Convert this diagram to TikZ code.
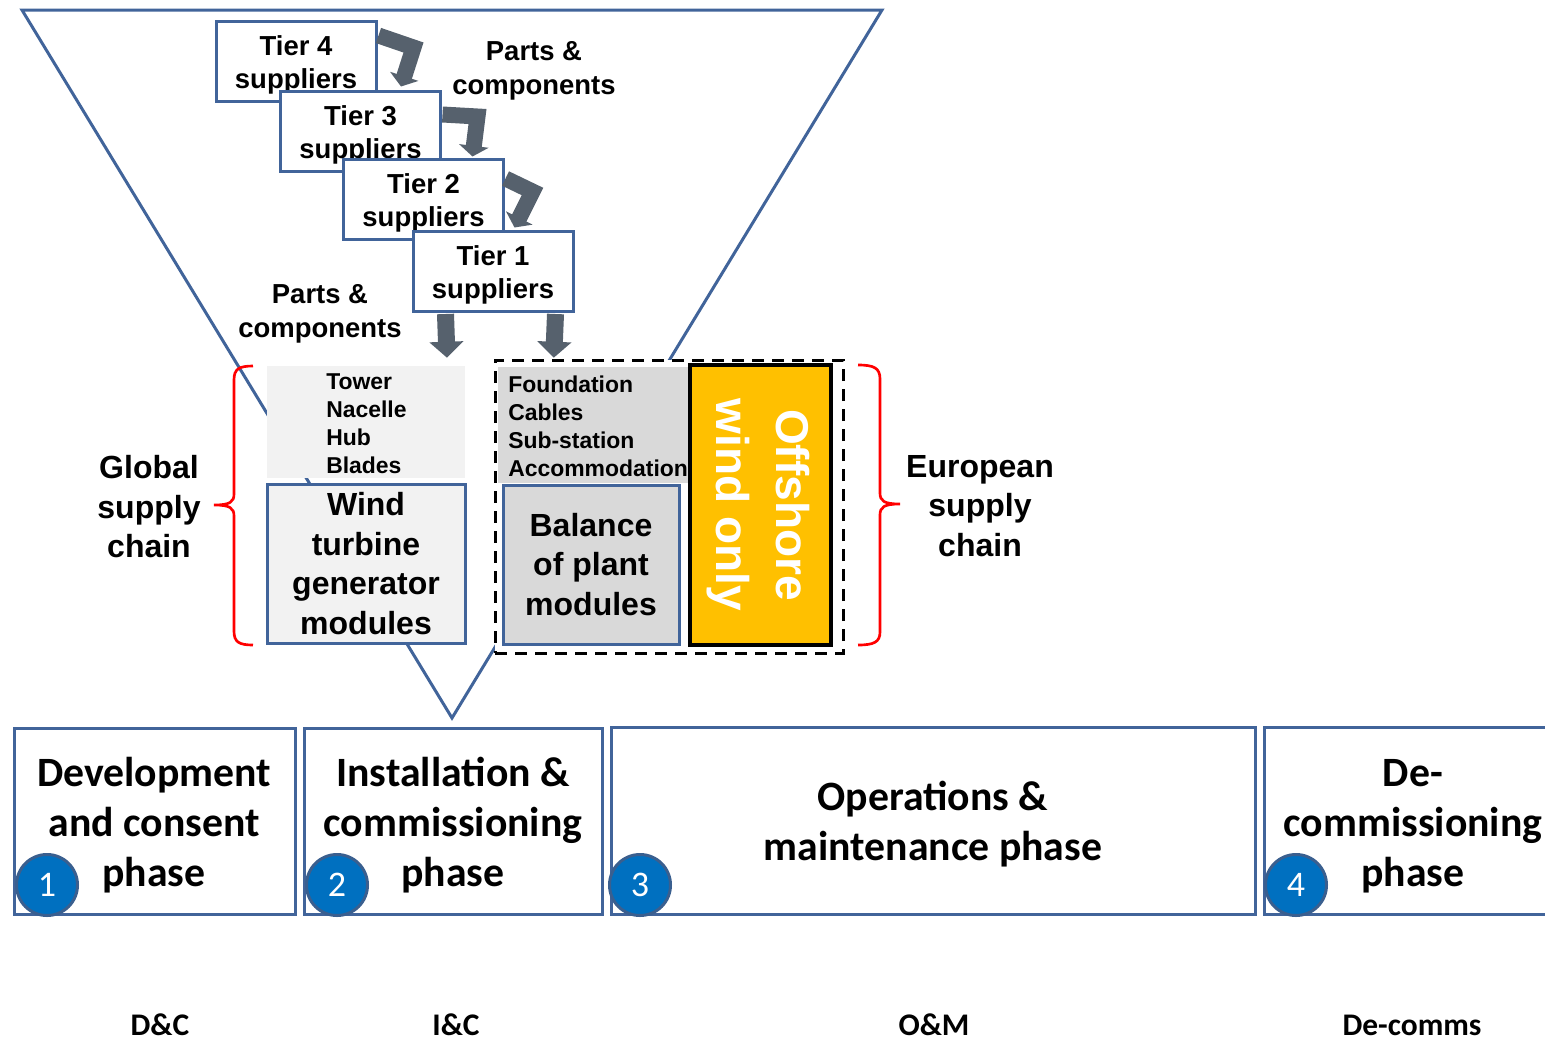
\documentclass[tikz,border=0pt]{standalone}
\usepackage{fontspec}
\setmainfont{Liberation Sans}
\newfontfamily\calfont{Carlito}
\usetikzlibrary{arrows.meta,calc}
\definecolor{blueline}{HTML}{41649A}
\definecolor{arrgray}{HTML}{56616D}
\definecolor{lightfill}{HTML}{F2F2F2}
\definecolor{midfill}{HTML}{D9D9D9}
\definecolor{orangefill}{HTML}{FFC000}
\definecolor{circfill}{HTML}{0070C0}
\definecolor{circline}{HTML}{3A5F8F}
\definecolor{bracered}{HTML}{FF0000}
\begin{document}
\begin{tikzpicture}[x=0.75pt,y=-0.75pt,
  blueedge/.style={draw=blueline, line width=2.25pt},
  tierbox/.style={blueedge, fill=white, minimum width=120pt, minimum height=60pt, inner sep=0pt},
  tiertext/.style={font=\bfseries\fontsize{20.6}{25}\selectfont, align=center, inner sep=0pt},
  listtext/.style={font=\bfseries\fontsize{17.2}{21}\selectfont, align=left, anchor=west, inner sep=0pt},
  bigtext/.style={font=\bfseries\fontsize{24}{29.6}\selectfont, align=center, inner sep=0pt},
  phasebox/.style={blueedge, fill=white, inner sep=0pt},
  phasetext/.style={font=\calfont\bfseries\fontsize{31.3}{37.5}\selectfont, align=center, inner sep=0pt},
  numcirc/.style={circle, draw=circline, line width=2.25pt, fill=circfill, minimum size=45.75pt,
    inner sep=0pt, text=white, font=\calfont\fontsize{27}{27}\selectfont},
  bottomtext/.style={font=\calfont\bfseries\fontsize{23.6}{28}\selectfont, inner sep=0pt},
  elbowarrow/.style={draw=arrgray, line width=12pt, -{Triangle[width=22pt,length=8pt]}},
  downarrow/.style={draw=arrgray, line width=12.75pt, -{Triangle[width=25pt,length=12pt]}},
  bracestyle/.style={draw=bracered, line width=2pt},
]
\useasboundingbox (0,0) rectangle (1545,1039);

% funnel
\draw[blueline, line width=2.25pt, line join=miter] (22,10) -- (882,10) -- (452,718) -- cycle;

% positions of the tier boxes
\path (296,61) coordinate (c4) (360.5,131) coordinate (c3) (423.5,199) coordinate (c2) (493,271) coordinate (c1);

% module areas
\node[fill=lightfill, minimum width=148.5pt, minimum height=84pt, inner sep=0pt] (towerbox) at (366,422) {};
\node[listtext] (twlist) at (326,424) {Tower\\Nacelle\\Hub\\Blades};
\node[blueedge, fill=lightfill, minimum width=148.5pt, minimum height=119.25pt, inner sep=0pt, bigtext] (wtg) at (366,563.5) {Wind\\turbine\\generator\\modules};

\node[draw=black, line width=2.25pt, dash pattern=on 9pt off 6pt, fill=white, minimum width=261pt, minimum height=219.75pt, inner sep=0pt] (bopzone) at (669,506.5) {};
\node[fill=midfill, minimum width=144pt, minimum height=87pt, inner sep=0pt] (bopgray) at (594,425) {};
\node[listtext] (boplist) at (508,426) {Foundation\\Cables\\Sub-station\\Accommodation};
\node[blueedge, fill=midfill, minimum width=132pt, minimum height=119.25pt, inner sep=0pt, bigtext] (bop) at (591,564.5) {Balance\\of plant\\modules};
\node[draw=black, line width=3pt, fill=orangefill, minimum width=105.75pt, minimum height=210pt, inner sep=0pt] (offbox) at (760.5,505) {};
\node[rotate=-90, text=white, font=\bfseries\fontsize{34.5}{45}\selectfont, align=center, inner sep=0pt] (offtext) at (758,505) {Offshore\\wind only};

% tier boxes with their texts
\node[tierbox] (t4) at (c4) {};
\node[tiertext] (t4t) at ($(c4)+(0,4)$) {Tier 4\\suppliers};
\node[tierbox] (t3) at (c3) {};
\node[tiertext] (t3t) at ($(c3)+(0,4)$) {Tier 3\\suppliers};
\node[tierbox] (t2) at (c2) {};
\node[tiertext] (t2t) at ($(c2)+(0,4)$) {Tier 2\\suppliers};
\node[tierbox] (t1) at (c1) {};
\node[tiertext] (t1t) at ($(c1)+(0,4)$) {Tier 1\\suppliers};

% arrows
\draw[elbowarrow] ($(t4.north east)+(1,16)$) -- ($(t4.north east)+(36,28)$) -- ($(t3.north west)+(122,-3)$);
\draw[elbowarrow] ($(t3.north east)+(0.5,25)$) -- ($(t3.north east)+(35.5,27)$) -- ($(t2.north west)+(130.5,-1)$);
\draw[elbowarrow] ($(t2.north east)+(0.5,21)$) -- ($(t2.north east)+(27.5,34)$) -- ($(t1.north west)+(103,-2)$);
\draw[downarrow] ($(t1.south west)+(34,1.5)$) -- ($(towerbox.north)+(81,-8)$);
\draw[downarrow] ($(t1.south east)+(-19,1.5)$) -- ($(bopgray.north west)+(56,-9)$);

\node[tiertext] (parts1) at (534,71) {Parts \&\\components};
\node[tiertext] (parts2) at (320,314) {Parts \&\\components};

% braces
\draw[bracestyle] (253,366) .. controls (239,366) and (234,369) .. (234,380) -- (234,494)
  .. controls (234,502) and (230,505) .. (214,505) .. controls (230,505) and (234,508) .. (234,516)
  -- (234,631) .. controls (234,642) and (239,645) .. (253,645);
\draw[bracestyle] (858,365) .. controls (874,365) and (880,368) .. (880,379) -- (880,493)
  .. controls (880,501) and (884,504) .. (900,504) .. controls (884,504) and (880,507) .. (880,515)
  -- (880,632) .. controls (880,642) and (874,645) .. (858,645);
\node[bigtext] (global) at (149,507) {Global\\supply\\chain};
\node[bigtext] (europe) at (980,506) {European\\supply\\chain};

% phases
\node[phasebox, minimum width=210.75pt, minimum height=139.5pt] (p1) at (154.5,821) {};
\node[phasebox, minimum width=223.5pt, minimum height=139.5pt] (p2) at (453,821) {};
\node[phasebox, minimum width=483pt, minimum height=140.25pt] (p3) at (933,820.5) {};
\node[phasebox, minimum width=222pt, minimum height=140.25pt] (p4) at (1412,820.5) {};
\node[phasetext] (p1t) at (154,825) {Development\\and consent\\phase};
\node[phasetext] (p2t) at (453,825) {Installation \&\\commissioning\\phase};
\node[phasetext] (p3t) at (933,824) {Operations \&\\maintenance phase};
\node[phasetext] (p4t) at (1413,826) {De-\\commissioning\\phase};
\node[numcirc] (n1) at (47,885) {1};
\node[numcirc] (n2) at (337,885) {2};
\node[numcirc] (n3) at (640,885) {3};
\node[numcirc] (n4) at (1296,885) {4};

% abbreviations
\node[bottomtext] (a1) at (160,1025) {D\&C};
\node[bottomtext] (a2) at (456,1025) {I\&C};
\node[bottomtext] (a3) at (934,1025) {O\&M};
\node[bottomtext] (a4) at (1412,1025) {De-comms};
\end{tikzpicture}
\end{document}
